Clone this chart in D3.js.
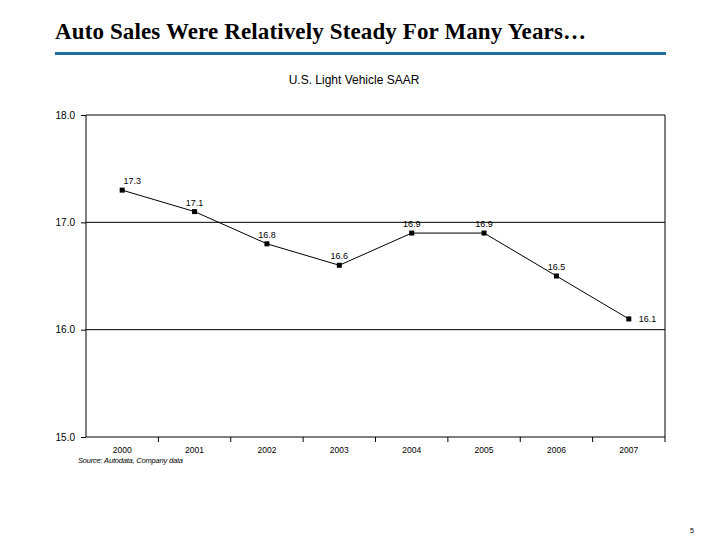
<!DOCTYPE html>
<html>
<head>
<meta charset="utf-8">
<script src="https://cdnjs.cloudflare.com/ajax/libs/d3/7.8.2/d3.min.js"></script>
<style>
  body { margin: 0; background: #fff; }
  svg { display: block; }
  .axis path, .axis line { stroke: #000; }
  .axis text { font-family: "Liberation Sans", Arial, sans-serif; fill: #000; }
</style>
</head>
<body>
<svg id="chart" width="720" height="540"></svg>
<script>
const years = ['2000', '2001', '2002', '2003', '2004', '2005', '2006', '2007'];
const saar = [17.3, 17.1, 16.8, 16.6, 16.9, 16.9, 16.5, 16.1];
const yTicks = [15, 16, 17, 18];

const MARGIN = { top: 115, right: 55, bottom: 103, left: 86 };
const W = 720, H = 540;
const innerW = W - MARGIN.left - MARGIN.right;
const innerH = H - MARGIN.top - MARGIN.bottom;

const $svg = d3.select('#chart');

// slide title
$svg.append('text')
    .attr('x', 55).attr('y', 39)
    .attr('font-family', '"Liberation Serif", "Times New Roman", serif')
    .attr('font-weight', 'bold')
    .attr('font-size', 23)
    .attr('textLength', 531)
    .attr('lengthAdjust', 'spacing')
    .text('Auto Sales Were Relatively Steady For Many Years…');

$svg.append('rect')
    .attr('x', 55).attr('y', 52)
    .attr('width', 611).attr('height', 3)
    .attr('fill', '#1d6e9e');

// chart title
$svg.append('text')
    .attr('x', 354).attr('y', 84)
    .attr('text-anchor', 'middle')
    .attr('font-family', '"Liberation Sans", Arial, sans-serif')
    .attr('font-size', 12)
    .text('U.S. Light Vehicle SAAR');

const x = d3.scaleBand().domain(years).range([0, innerW]);
const y = d3.scaleLinear().domain([15, 18]).range([innerH, 0]);

const g = $svg.append('g')
    .attr('transform', `translate(${MARGIN.left},${MARGIN.top})`);

// grid lines
g.selectAll('.grid')
    .data(yTicks.filter(d => d > 15))
    .enter().append('line')
    .attr('class', 'grid')
    .attr('x1', 0).attr('x2', innerW)
    .attr('y1', d => y(d)).attr('y2', d => y(d))
    .attr('stroke', '#000').attr('stroke-width', 1);

// right border
g.append('line')
    .attr('x1', innerW).attr('x2', innerW)
    .attr('y1', 0).attr('y2', innerH)
    .attr('stroke', '#000');

// y-axis
g.append('g')
    .attr('class', 'y axis')
    .call(d3.axisLeft(y).tickValues(yTicks).tickSize(5).tickPadding(6)
        .tickFormat(d3.format('.1f')))
    .call(a => a.selectAll('text').attr('font-size', 10))
    .call(a => a.select('.domain').attr('d', `M0,0V${innerH}`));

// x-axis, ticks on band boundaries
const xAxis = g.append('g')
    .attr('class', 'x axis')
    .attr('transform', `translate(0,${innerH})`)
    .call(d3.axisBottom(x).tickSize(0).tickPadding(10))
    .call(a => a.selectAll('text').attr('font-size', 8.5))
    .call(a => a.select('.domain').attr('d', `M0,0H${innerW}`));

xAxis.selectAll('.bound')
    .data(years)
    .enter().append('line')
    .attr('class', 'bound')
    .attr('x1', d => x(d) + x.bandwidth())
    .attr('x2', d => x(d) + x.bandwidth())
    .attr('y1', 0).attr('y2', 5);

// line
const cx = d => x(d) + x.bandwidth() / 2;
const line = d3.line()
    .x((d, i) => cx(years[i]))
    .y(d => y(d));

g.append('path')
    .datum(saar)
    .attr('d', line)
    .attr('fill', 'none')
    .attr('stroke', '#000')
    .attr('stroke-width', 1);

g.selectAll('.pt')
    .data(saar)
    .enter().append('rect')
    .attr('class', 'pt')
    .attr('x', (d, i) => cx(years[i]) - 2.5)
    .attr('y', d => y(d) - 2.5)
    .attr('width', 5).attr('height', 5)
    .attr('fill', '#000');

// data labels
const last = saar.length - 1;
g.selectAll('.lbl')
    .data(saar)
    .enter().append('text')
    .attr('class', 'lbl')
    .attr('x', (d, i) => cx(years[i]) + (i === last || i === 0 ? 10 : 0))
    .attr('y', (d, i) => y(d) + (i === last ? 3 : -6))
    .attr('text-anchor', (d, i) => i === last ? 'start' : 'middle')
    .attr('font-family', '"Liberation Sans", Arial, sans-serif')
    .attr('font-size', 9)
    .text(d => d.toFixed(1));

// source
$svg.append('text')
    .attr('x', 78).attr('y', 463)
    .attr('font-family', '"Liberation Sans", Arial, sans-serif')
    .attr('font-style', 'italic')
    .attr('font-size', 7.5)
    .attr('textLength', 105)
    .text('Source: Autodata, Company data');

// page number
$svg.append('text')
    .attr('x', 690).attr('y', 533)
    .attr('font-family', '"Liberation Sans", Arial, sans-serif')
    .attr('font-size', 7)
    .text('5');
</script>
</body>
</html>
